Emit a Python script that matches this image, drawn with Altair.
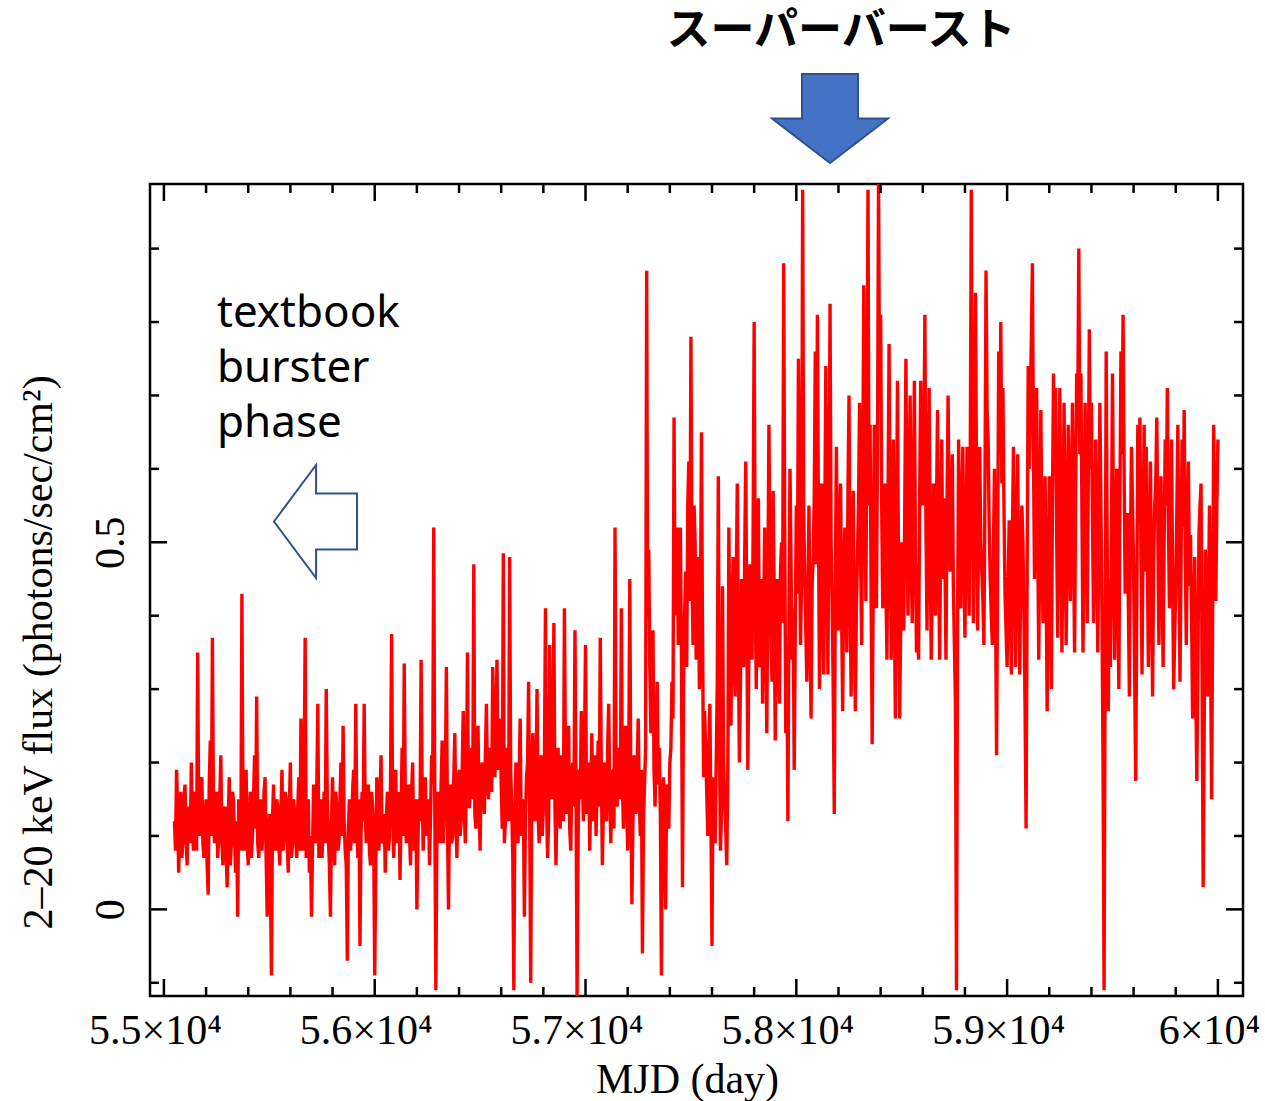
import altair as alt
import pandas as pd

# ---------------- data ----------------
MJD_START = 55050   # first time bin (day)
BIN_DAYS = 10       # bin width (day)

# flux at MJD_START + 10*i
FLUX = [
    # 55050
    0.12, 0.19, 0.05, 0.16, 0.09, 0.17, 0.06, 0.14, 0.20, 0.08,
    0.12, 0.35, 0.10, 0.18, 0.07, 0.15, 0.02, 0.23, 0.37, 0.09,
    0.16, 0.10, 0.21, 0.06, 0.14, 0.03, 0.18, 0.09, 0.15, 0.05,
    -0.01, 0.12, 0.43, 0.08, 0.19, 0.06, 0.16, 0.10, 0.21, 0.29,
    0.07, 0.15, 0.11, 0.18, -0.01, 0.13, -0.09, 0.17, 0.08, 0.14,
    # 55550
    0.06, 0.19, 0.10, 0.15, 0.05, 0.20, 0.09, 0.13, 0.07, 0.18,
    0.26, 0.08, 0.37, 0.11, 0.05, -0.01, 0.17, 0.09, 0.28, 0.12,
    0.07, 0.16, 0.30, 0.10, -0.01, 0.18, 0.06, 0.14, 0.09, 0.20,
    0.25, 0.08, -0.07, 0.15, 0.10, 0.19, 0.28, 0.07, -0.05, 0.16,
    0.28, 0.09, 0.17, 0.06, 0.14, -0.09, 0.18, 0.08, 0.21, 0.11,
    # 56050
    0.05, 0.16, 0.10, 0.375, 0.07, 0.19, 0.12, 0.04, 0.22, 0.335,
    0.09, 0.17, 0.06, 0.20, 0.11, 0.00, 0.15, 0.34, 0.08, 0.18,
    0.12, 0.06, 0.21, 0.52, -0.11, 0.16, 0.09, 0.23, 0.13, 0.33,
    0.00, 0.17, 0.10, 0.24, 0.07, 0.19, 0.12, 0.27, 0.09, 0.35,
    0.14, 0.22, 0.47, 0.11, 0.25, 0.08, 0.20, 0.13, 0.28, 0.15,
    # 56550
    0.21, 0.33, 0.18, 0.34, 0.24, 0.17, 0.485, 0.12, 0.22, 0.48,
    0.14, -0.11, 0.20, 0.09, 0.26, 0.13, -0.01, 0.18, 0.31, -0.10,
    0.24, 0.12, 0.30, 0.09, 0.21, 0.14, 0.41, 0.07, 0.36, 0.15,
    0.39, 0.06, 0.22, 0.11, 0.18, 0.41, 0.13, 0.25, 0.08, 0.20,
    0.38, -0.12, 0.19, 0.27, 0.12, 0.36, 0.15, 0.08, 0.24, 0.17,
    # 57050
    0.10, 0.23, 0.37, 0.06, 0.20, 0.12, 0.28, 0.09, 0.19, 0.52,
    0.14, 0.22, 0.41, 0.11, 0.25, 0.08, 0.45, 0.007, 0.21, 0.13,
    0.26, 0.10, -0.06, 0.17, 0.87, 0.49, 0.24, 0.38, 0.14, 0.31,
    0.22, -0.09, 0.18, 0.00, 0.13, 0.20, 0.31, 0.67, 0.45, 0.36,
    0.52, 0.03, 0.40, 0.33, 0.61, 0.78, 0.36, 0.50, 0.42, 0.30,
    # 57550
    0.65, 0.18, 0.22, 0.10, 0.28, -0.05, 0.14, 0.20, 0.59, 0.08,
    0.44, 0.15, 0.06, 0.52, 0.25, 0.48, 0.29, 0.58, 0.20, 0.45,
    0.33, 0.61, 0.19, 0.47, 0.34, 0.80, 0.30, 0.56, 0.38, 0.28,
    0.52, 0.24, 0.66, 0.36, 0.57, 0.23, 0.45, 0.28, 0.50, 0.88,
    0.24, 0.12, 0.60, 0.34, 0.19, 0.55, 0.75, 0.36, 0.98, 0.45,
    # 58050
    0.31, 0.55, 0.26, 0.48, 0.76, 0.81, 0.30, 0.58, 0.32, 0.74,
    0.32, 0.825, 0.42, 0.13, 0.63, 0.38, 0.58, 0.27, 0.52, 0.35,
    0.70, 0.29, 0.57, 0.27, 0.48, 0.69, 0.36, 0.85, 0.42, 0.98,
    0.66, 0.225, 0.66, 0.41, 0.99, 0.81, 0.41, 0.58, 0.34, 0.77,
    0.34, 0.64, 0.26, 0.72, 0.26, 0.50, 0.38, 0.75, 0.40, 0.70,
    # 58550
    0.39, 0.72, 0.35, 0.34, 0.72, 0.55, 0.81, 0.38, 0.71, 0.34,
    0.58, 0.40, 0.68, 0.34, 0.64, 0.56, 0.34, 0.70, 0.46, 0.62,
    0.36, -0.11, 0.64, 0.41, 0.63, 0.37, 0.63, 0.40, 0.98, 0.39,
    0.84, 0.38, 0.63, 0.46, 0.36, 0.87, 0.64, 0.45, 0.36, 0.60,
    0.21, 0.76, 0.80, 0.71, 0.43, 0.33, 0.53, 0.32, 0.63, 0.33,
    # 59050
    0.62, 0.32, 0.55, 0.40, 0.11, 0.74, 0.68, 0.88, 0.45, 0.71,
    0.34, 0.68, 0.39, 0.59, 0.27, 0.59, 0.30, 0.73, 0.71, 0.37,
    0.71, 0.35, 0.69, 0.36, 0.66, 0.42, 0.69, 0.35, 0.73, 0.90,
    0.73, 0.35, 0.69, 0.39, 0.79, 0.69, 0.39, 0.64, 0.35, 0.69,
    0.40, -0.11, 0.76, 0.27, 0.33, 0.73, 0.34, 0.60, 0.30, 0.76,
    # 59550
    0.81, 0.43, 0.54, 0.29, 0.63, 0.47, 0.175, 0.66, 0.67, 0.32,
    0.66, 0.63, 0.33, 0.61, 0.29, 0.55, 0.67, 0.36, 0.59, 0.33,
    0.64, 0.71, 0.41, 0.64, 0.30, 0.44, 0.66, 0.31, 0.64, 0.68,
    0.36, 0.61, 0.51, 0.26, 0.48, 0.175, 0.51, 0.58, 0.03, 0.49,
    0.29, 0.55, 0.15, 0.66, 0.42, 0.64,
]

# flux at MJD_START + 5 + 10*i (the bins in between)
FLUX_MID = [
    # 55055
    0.08, 0.14, 0.11, 0.07, 0.15, 0.10, 0.13, 0.09, 0.12, 0.16,
    0.08, 0.13, 0.16, 0.09, 0.12, 0.06, 0.17, 0.10, 0.14, 0.11,
    0.07, 0.15, 0.09, 0.13, 0.08, 0.12, 0.06, 0.16, 0.10, 0.12,
    0.15, 0.08, 0.13, 0.16, 0.09, 0.12, 0.07, 0.15, 0.11, 0.09,
    0.12, 0.08, 0.16, 0.07, 0.10, 0.05, 0.12, 0.10, 0.15, 0.09,
    # 55555
    0.13, 0.08, 0.16, 0.09, 0.14, 0.07, 0.15, 0.10, 0.14, 0.08,
    0.14, 0.18, 0.07, 0.15, 0.10, 0.08, 0.12, 0.16, 0.07, 0.15,
    0.12, 0.09, 0.15, 0.06, 0.12, 0.10, 0.16, 0.08, 0.15, 0.10,
    0.12, 0.06, 0.11, 0.08, 0.16, 0.09, 0.13, 0.15, 0.10, 0.12,
    0.13, 0.14, 0.08, 0.16, 0.10, 0.06, 0.12, 0.15, 0.09, 0.13,
    # 56055
    0.12, 0.08, 0.17, 0.14, 0.11, 0.09, 0.16, 0.13, 0.10, 0.15,
    0.13, 0.10, 0.16, 0.08, 0.15, 0.09, 0.12, 0.17, 0.13, 0.10,
    0.15, 0.13, 0.17, 0.14, 0.10, 0.12, 0.17, 0.09, 0.18, 0.12,
    0.14, 0.09, 0.18, 0.12, 0.16, 0.10, 0.19, 0.13, 0.17, 0.14,
    0.18, 0.15, 0.13, 0.20, 0.14, 0.19, 0.16, 0.21, 0.17, 0.22,
    # 56555
    0.16, 0.23, 0.25, 0.19, 0.26, 0.11, 0.09, 0.16, 0.12, 0.19,
    0.07, 0.13, 0.16, 0.18, 0.10, 0.15, 0.12, 0.20, 0.14, 0.17,
    0.19, 0.16, 0.13, 0.18, 0.10, 0.20, 0.15, 0.12, 0.19, 0.22,
    0.14, 0.17, 0.13, 0.21, 0.12, 0.19, 0.16, 0.11, 0.18, 0.14,
    0.16, 0.10, 0.15, 0.18, 0.22, 0.13, 0.20, 0.16, 0.12, 0.21,
    # 57055
    0.17, 0.14, 0.19, 0.15, 0.13, 0.22, 0.16, 0.18, 0.11, 0.20,
    0.18, 0.15, 0.17, 0.20, 0.14, 0.19, 0.16, 0.12, 0.17, 0.20,
    0.15, 0.19, 0.12, 0.22, 0.40, 0.33, 0.28, 0.19, 0.24, 0.17,
    0.13, 0.15, 0.09, 0.17, 0.11, 0.22, 0.26, 0.40, 0.52, 0.43,
    0.35, 0.30, 0.46, 0.55, 0.42, 0.47, 0.55, 0.34, 0.48, 0.40,
    # 57555
    0.38, 0.27, 0.16, 0.22, 0.12, 0.18, 0.09, 0.31, 0.24, 0.13,
    0.20, 0.11, 0.19, 0.35, 0.40, 0.33, 0.44, 0.36, 0.31, 0.38,
    0.48, 0.40, 0.35, 0.42, 0.51, 0.44, 0.47, 0.33, 0.45, 0.40,
    0.37, 0.44, 0.49, 0.31, 0.42, 0.38, 0.35, 0.46, 0.39, 0.52,
    0.36, 0.40, 0.47, 0.41, 0.38, 0.43, 0.52, 0.45, 0.55, 0.38,
    # 58055
    0.42, 0.38, 0.44, 0.56, 0.47, 0.53, 0.46, 0.41, 0.52, 0.49,
    0.55, 0.50, 0.30, 0.44, 0.47, 0.52, 0.40, 0.46, 0.43, 0.57,
    0.45, 0.43, 0.39, 0.41, 0.55, 0.48, 0.58, 0.60, 0.66, 0.55,
    0.42, 0.45, 0.53, 0.62, 0.70, 0.55, 0.49, 0.44, 0.56, 0.52,
    0.48, 0.41, 0.52, 0.44, 0.38, 0.46, 0.57, 0.52, 0.58, 0.47,
    # 58555
    0.55, 0.50, 0.47, 0.56, 0.61, 0.62, 0.52, 0.57, 0.49, 0.44,
    0.50, 0.55, 0.47, 0.51, 0.45, 0.48, 0.55, 0.53, 0.50, 0.44,
    0.28, 0.40, 0.50, 0.54, 0.47, 0.51, 0.49, 0.60, 0.62, 0.58,
    0.57, 0.52, 0.50, 0.42, 0.58, 0.68, 0.52, 0.40, 0.49, 0.42,
    0.47, 0.62, 0.58, 0.55, 0.38, 0.45, 0.42, 0.50, 0.46, 0.51,
    # 59055
    0.44, 0.47, 0.50, 0.28, 0.46, 0.60, 0.78, 0.62, 0.57, 0.52,
    0.50, 0.52, 0.48, 0.45, 0.42, 0.47, 0.55, 0.59, 0.51, 0.55,
    0.52, 0.50, 0.53, 0.49, 0.54, 0.55, 0.51, 0.56, 0.67, 0.62,
    0.54, 0.51, 0.55, 0.58, 0.60, 0.53, 0.48, 0.52, 0.50, 0.55,
    0.20, 0.35, 0.48, 0.45, 0.52, 0.50, 0.46, 0.44, 0.55, 0.62,
    # 59555
    0.60, 0.48, 0.42, 0.50, 0.55, 0.32, 0.40, 0.54, 0.48, 0.51,
    0.46, 0.49, 0.45, 0.44, 0.47, 0.58, 0.52, 0.48, 0.46, 0.50,
    0.55, 0.53, 0.51, 0.46, 0.37, 0.54, 0.48, 0.47, 0.52, 0.49,
    0.50, 0.44, 0.40, 0.37, 0.30, 0.33, 0.55, 0.32, 0.25, 0.38,
    0.42, 0.36, 0.40, 0.52, 0.55,
]

MJD = [MJD_START + BIN_DAYS * i for i in range(len(FLUX))]
MJD_MID = [MJD_START + BIN_DAYS // 2 + BIN_DAYS * i for i in range(len(FLUX_MID))]

X_TICKS = [55000, 56000, 57000, 58000, 59000, 60000]
X_TICK_LABELS = ["5.5×10⁴", "5.6×10⁴", "5.7×10⁴", "5.8×10⁴", "5.9×10⁴", "6×10⁴"]
X_MINOR = [55200, 55400, 55600, 55800, 56200, 56400, 56600, 56800,
           57200, 57400, 57600, 57800, 58200, 58400, 58600, 58800,
           59200, 59400, 59600, 59800]
Y_TICKS = [0, 0.5]
Y_TICK_LABELS = ["0", "0.5"]
Y_MINOR = [-0.1, 0.1, 0.2, 0.3, 0.4, 0.6, 0.7, 0.8, 0.9]

X_DOMAIN = [54934, 60119]
Y_DOMAIN = [-0.118, 0.988]

TITLE_JP = "スーパーバースト"
NOTE_TEXT = "textbook\nburster\nphase"
X_TITLE = "MJD (day)"
Y_TITLE = "2–20 keV flux (photons/sec/cm²)"

# ---------------- layout ----------------
W, H = 1093, 812
SERIF = "Liberation Serif"
MAJ, MIN = 17, 9

def label_expr(vals, labels):
    expr = "''"
    for v, l in reversed(list(zip(vals, labels))):
        expr = f"datum.value == {v} ? '{l}' : {expr}"
    return expr

xscale = alt.Scale(domain=X_DOMAIN, nice=False, zero=False)
yscale = alt.Scale(domain=Y_DOMAIN, nice=False, zero=False)

xaxis = alt.Axis(values=X_TICKS, labelExpr=label_expr(X_TICKS, X_TICK_LABELS),
                 ticks=False, tickSize=0, domain=False, grid=False,
                 labelFont=SERIF, labelFontSize=42, labelColor="black",
                 labelPadding=14, labelOffset=-9, labelFlush=False, labelOverlap=False,
                 title=X_TITLE, titleFont=SERIF, titleFontSize=42,
                 titleFontWeight="normal", titleColor="black",
                 titleX=537, titleY=96, titleAlign="center", titleBaseline="alphabetic")
yaxis = alt.Axis(values=Y_TICKS, labelExpr=label_expr(Y_TICKS, Y_TICK_LABELS),
                 ticks=False, tickSize=0, domain=False, grid=False,
                 labelFont=SERIF, labelFontSize=42, labelColor="black",
                 labelAngle=270, labelAlign="center", labelBaseline="bottom",
                 labelPadding=18, labelFlush=False, labelOverlap=False,
                 title=Y_TITLE, titleFont=SERIF, titleFontSize=42,
                 titleFontWeight="normal", titleColor="black",
                 titleAngle=270, titleX=-112, titleY=468,
                 titleAlign="center", titleBaseline="middle")

X = lambda: alt.X("mjd:Q", scale=xscale, axis=xaxis)
Y = lambda: alt.Y("flux:Q", scale=yscale, axis=yaxis)

df = pd.concat([pd.DataFrame({"mjd": MJD, "flux": FLUX}),
                pd.DataFrame({"mjd": MJD_MID, "flux": FLUX_MID})]).sort_values("mjd")
line = alt.Chart(df).mark_line(color="#FF0000", strokeWidth=3.4, clip=True).encode(x=X(), y=Y())

def xticks(vals, length):
    d = pd.DataFrame({"mjd": vals})
    base = alt.Chart(d).mark_rule(color="black", strokeWidth=2.5)
    bottom = base.encode(x=X(), y=alt.value(H), y2=alt.value(H - length))
    top = base.encode(x=X(), y=alt.value(0), y2=alt.value(length))
    return [bottom, top]

def yticks(vals, length):
    d = pd.DataFrame({"flux": vals})
    base = alt.Chart(d).mark_rule(color="black", strokeWidth=2.5)
    left = base.encode(y=Y(), x=alt.value(0), x2=alt.value(length))
    right = base.encode(y=Y(), x=alt.value(W), x2=alt.value(W - length))
    return [left, right]

tick_layers = (xticks(X_TICKS, MAJ) + xticks(X_MINOR, MIN)
               + yticks(Y_TICKS, MAJ) + yticks(Y_MINOR, MIN))

one = pd.DataFrame({"t": [TITLE_JP]})
title_jp = alt.Chart(one).mark_text(font="Noto Sans CJK JP", fontSize=44, fontWeight="bold",
                                    color="black", align="center", baseline="alphabetic").encode(
    x=alt.value(691), y=alt.value(-139), text="t:N")

note = alt.Chart(pd.DataFrame({"t": [NOTE_TEXT]})).mark_text(
    font="Noto Sans", fontSize=44, color="black", align="left",
    baseline="alphabetic", lineBreak="\n", lineHeight=55).encode(
    x=alt.value(67), y=alt.value(143), text="t:N")

DOWN_ARROW = "M -0.483 -0.767 L 0.483 -0.767 L 0.483 0 L 1 0 L 0 0.767 L -1 0 L -0.483 0 Z"
LEFT_ARROW = "M -0.735 0 L 0.01 -1 L 0.01 -0.495 L 0.735 -0.495 L 0.735 0.495 L 0.01 0.495 L 0.01 1 Z"

down = alt.Chart(one).mark_point(shape=DOWN_ARROW, filled=True, fill="#4472C4",
                                 stroke="#2F528F", strokeWidth=2, opacity=1,
                                 size=116 * 116).encode(
    x=alt.value(680), y=alt.value(-65.5))
left = alt.Chart(one).mark_point(shape=LEFT_ARROW, filled=False, fill="white",
                                 stroke="#2F528F", strokeWidth=2, opacity=1,
                                 size=113 * 113).encode(
    x=alt.value(165.5), y=alt.value(337.5))

chart = alt.layer(line, *tick_layers, title_jp, note, down, left).properties(
    width=W, height=H,
    autosize=alt.AutoSizeParams(type="none"),
    padding={"left": 150, "top": 184, "right": 22, "bottom": 105},
    background="white",
).configure_view(stroke="black", strokeWidth=2.5)

chart.save("out.html", embed_options={"renderer": "svg", "actions": False})
